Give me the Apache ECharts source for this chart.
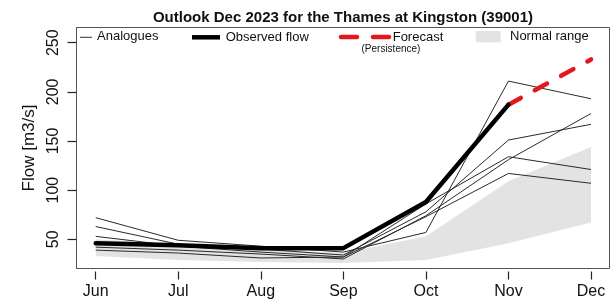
<!DOCTYPE html>
<html><head><meta charset="utf-8">
<script src="https://cdn.jsdelivr.net/npm/echarts@6/dist/echarts.min.js"></script>
<style>html,body{margin:0;padding:0;background:#fff}#c{width:612px;height:303px}</style>
</head><body><div id="c"></div>
<script>
const months = ['Jun','Jul','Aug','Sep','Oct','Nov','Dec'];
const monthIdx = [0,1,2,3,4,5,6];
const yTicks = [50,100,150,200,250];
const normalLower = [33,29,27,26,29,46,67];
const normalUpper = [50,45,40,36,53,109,144];
const analogueA = [72,49,43,37,57,211,193];
const analogueB = [63,45,40,34,78,151,167];
const analogueC = [53,43,37,32,86,134,121];
const analogueD = [42,39,35,30,74,131,178];
const analogueE = [39,36,31,32,73,117,107];
const observed = [46,44,41,41,88,187];
const forecast = [null,null,null,null,null,187,233];

const FONT = 'Liberation Sans, Arial, sans-serif';
const toPairs = arr => arr.map((v,i)=> v==null ? null : [i,v]).filter(p=>p);

const analogues = [analogueA, analogueB, analogueC, analogueD, analogueE];
const series = [];
series.push({
  type:'custom', name:'Normal range', silent:true, z:1,
  data: monthIdx.map(i=>[i, normalLower[i], normalUpper[i]]),
  encode:{x:0, y:[1,2]},
  renderItem:(params, api)=>{
    if (params.dataIndex !== 0) return null;
    const pts = [];
    monthIdx.forEach(i=>pts.push(api.coord([i, normalUpper[i]])));
    for (let i=monthIdx.length-1;i>=0;i--) pts.push(api.coord([i, normalLower[i]]));
    return {type:'polygon', shape:{points:pts}, style:{fill:'#e3e3e3'}};
  }
});
analogues.forEach((a,k)=>series.push({
  type:'line', name:'Analogue '+(k+1), data:toPairs(a), symbol:'none', z:3,
  lineStyle:{color:'#2a2a2a', width:1}, silent:true
}));
series.push({type:'line', name:'Forecast', data:toPairs(forecast), symbol:'none', z:4,
  lineStyle:{color:'#e3171c', width:4.5, type:[14,16], cap:'round'}});
series.push({type:'line', name:'Observed flow', data:toPairs(observed), symbol:'none', z:5,
  lineStyle:{color:'#000', width:4.5, cap:'round', join:'round'}});

const txt = (t,x,y,size,extra) => Object.assign({type:'text', z:10, style:{text:t, x:x, y:y, fill:'#111', font: size+'px '+FONT, align:'left', verticalAlign:'middle'}}, extra||{});
const graphic = [
  {type:'line', z:10, shape:{x1:80,y1:37.3,x2:92,y2:37.3}, style:{stroke:'#333', lineWidth:1}},
  txt('Analogues',97,36.7,13),
  {type:'line', z:10, shape:{x1:192,y1:37.3,x2:220,y2:37.3}, style:{stroke:'#000', lineWidth:4.5}},
  txt('Observed flow',225.7,37,13),
  {type:'line', z:10, shape:{x1:341,y1:37,x2:357,y2:37}, style:{stroke:'#e3171c', lineWidth:4.5, lineCap:'round'}},
  {type:'line', z:10, shape:{x1:373,y1:37,x2:389,y2:37}, style:{stroke:'#e3171c', lineWidth:4.5, lineCap:'round'}},
  txt('Forecast',392.7,37,13),
  txt('(Persistence)',361.5,49.5,10),
  {type:'rect', z:10, shape:{x:475.7,y:31,width:25,height:11.3}, style:{fill:'#e3e3e3'}},
  txt('Normal range',510,36.5,13)
];

const chart = echarts.init(document.getElementById('c'), null, {renderer:'canvas'});
chart.setOption({
  animation:false,
  backgroundColor:'#fff',
  title:{text:'Outlook Dec 2023 for the Thames at Kingston (39001)', left:343, top:10, padding:0, textAlign:'center',
    textStyle:{fontFamily:FONT, fontSize:15, fontWeight:'bold', color:'#111'}},
  grid:{left:76.5, top:27.5, width:533, height:241, show:true, borderColor:'#555', borderWidth:1, containLabel:false},
  xAxis:{type:'value', min:-0.233, max:6.224, offset:3,
    axisLine:{show:false, onZero:false}, splitLine:{show:false},
    axisTick:{show:true, length:8, customValues:monthIdx, lineStyle:{color:'#222', width:1.2}},
    axisLabel:{customValues:monthIdx, formatter:v=>months[Math.round(v)], margin:12, fontSize:16, fontFamily:FONT, color:'#111'}},
  yAxis:{type:'value', min:20.3, max:265.5,
    name:'Flow [m3/s]', nameLocation:'middle', nameGap:35,
    nameTextStyle:{fontSize:17, fontFamily:FONT, color:'#111'},
    axisLine:{show:true, onZero:false, lineStyle:{color:'#555', width:1}}, splitLine:{show:false},
    axisTick:{show:true, length:9, customValues:yTicks, lineStyle:{color:'#222', width:1.2}},
    axisLabel:{customValues:yTicks, rotate:90, margin:15, fontSize:16, fontFamily:FONT, color:'#111'}},
  graphic:graphic,
  series:series
});
</script></body></html>
